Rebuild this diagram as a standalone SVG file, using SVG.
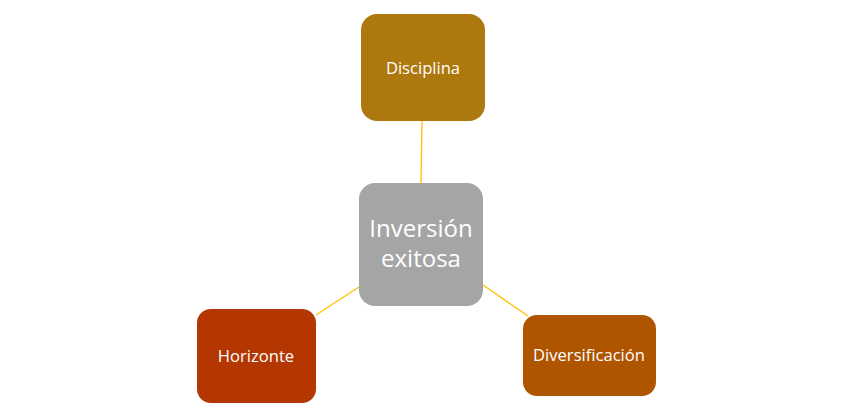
<svg xmlns="http://www.w3.org/2000/svg" width="853" height="417" viewBox="0 0 853 417">
<style>
.conn{stroke:#FFC000;stroke-width:1.3;fill:none}
.t{font-family:"Open Sans","Liberation Sans",sans-serif;fill:#fff;text-anchor:middle}
.s{font-size:16.6px}
.b{font-size:24px}
</style>
<rect width="853" height="417" fill="#fff"/>
<g id="connectors">
<line class="conn" x1="422" y1="121" x2="421" y2="183"/>
<line class="conn" x1="359" y1="287" x2="316" y2="315"/>
<line class="conn" x1="483" y1="285" x2="528" y2="316"/>
</g>
<g id="disciplina">
<rect x="361" y="14" width="124" height="107" rx="16" fill="#AD780D"/>
<text class="t s" x="423" y="74">Disciplina</text>
</g>
<g id="inversion">
<rect x="359" y="183" width="124" height="123" rx="16" fill="#A5A5A5"/>
<text class="t b" x="421" y="237">Inversión</text>
<text class="t b" x="421" y="267">exitosa</text>
</g>
<g id="horizonte">
<rect x="197" y="309" width="119" height="94" rx="14" fill="#B43600"/>
<text class="t s" x="256" y="362">Horizonte</text>
</g>
<g id="diversificacion">
<rect x="523" y="315" width="133" height="81" rx="14" fill="#AF5500"/>
<text class="t s" x="589" y="361">Diversificación</text>
</g>
</svg>
